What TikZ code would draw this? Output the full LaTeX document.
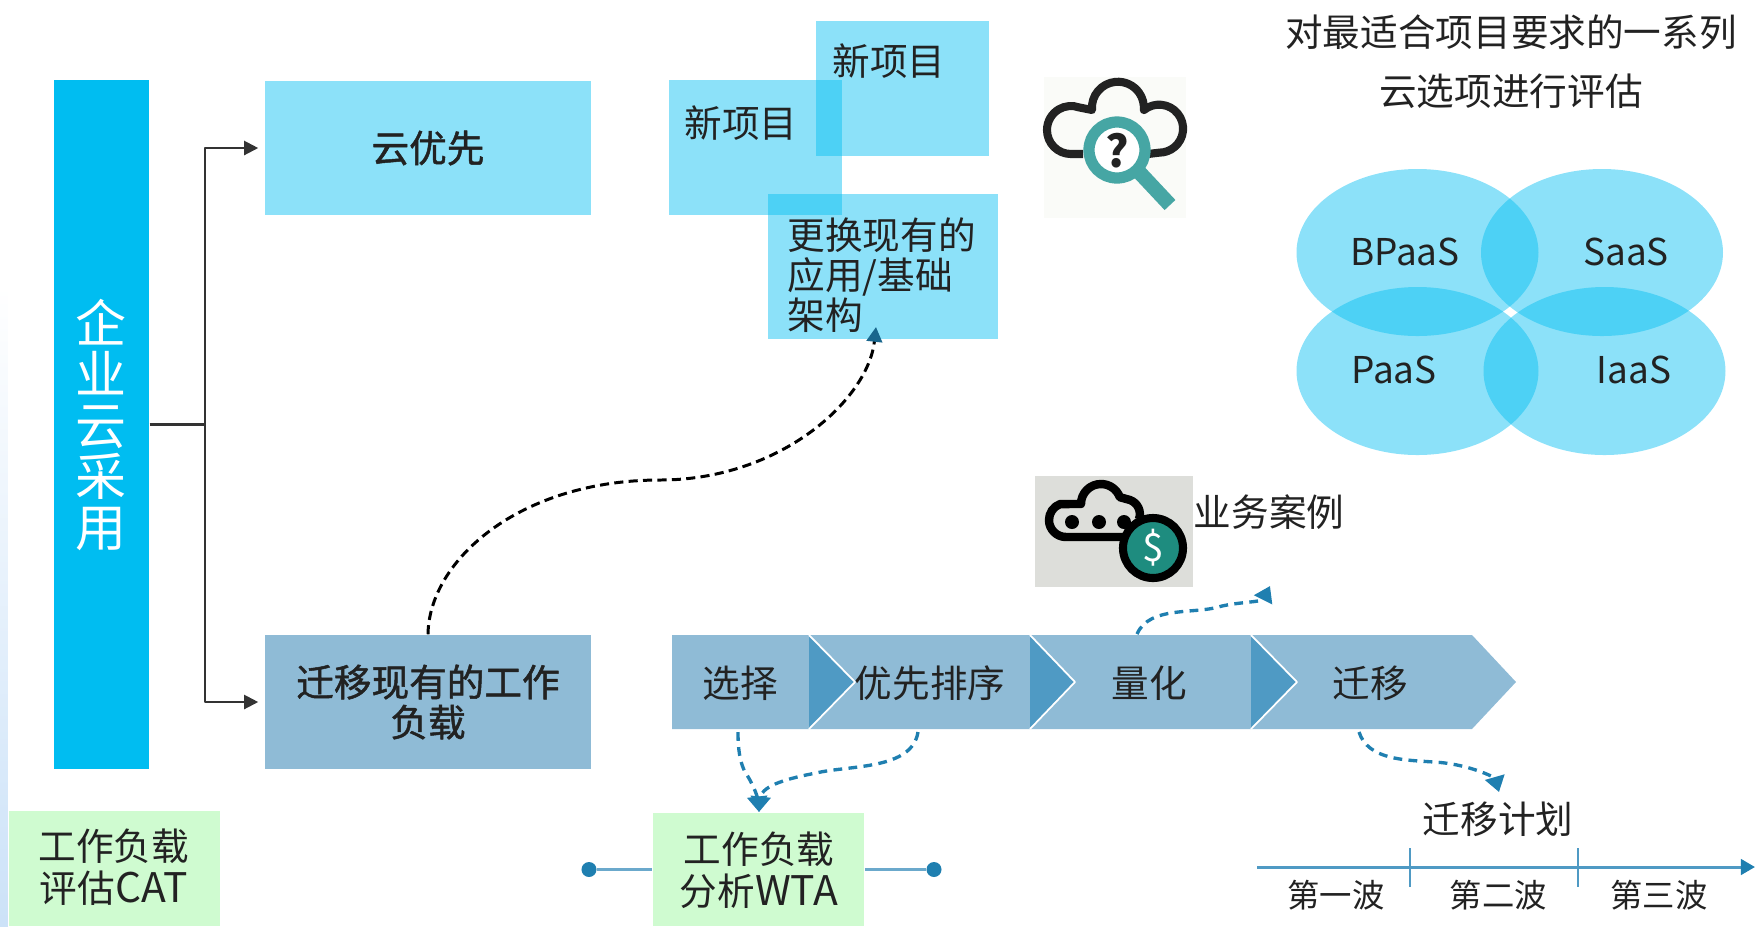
\documentclass[tikz,border=0pt]{standalone}
\usepackage{fontspec}
\setmainfont{Noto Sans CJK SC}
\newfontfamily\heavyfont[FakeBold=1.3]{Noto Sans CJK SC}
\usetikzlibrary{arrows.meta,calc}
\definecolor{barblue}{HTML}{00BDF1}
\definecolor{stepblue}{HTML}{8FBBD6}
\definecolor{tipblue}{HTML}{4F9AC4}
\definecolor{lineblue}{HTML}{1F7FB0}
\definecolor{railblue}{HTML}{6BA9CC}
\definecolor{palegreen}{HTML}{CFFBD0}
\definecolor{teal}{HTML}{46A6A4}
\definecolor{coin}{HTML}{1E8C7F}
\definecolor{inkdark}{HTML}{222222}
\definecolor{panelone}{HTML}{FAFBF8}
\definecolor{paneltwo}{HTML}{DDDEDA}
\definecolor{stripblue}{HTML}{CCE2F8}
\begin{document}
\begin{tikzpicture}[x=0.01cm,y=-0.01cm,line join=round,
  every node/.style={inner sep=0pt,text=inkdark,font=\fontsize{10.7}{11.4}\selectfont},
  pale/.style={fill=barblue,fill opacity=.45,text opacity=1},
  solidbox/.style={fill=stepblue},
  greenbox/.style={fill=palegreen},
  flow/.style={draw=black!80,line width=.6pt,-{Triangle[length=4pt,width=4pt]},shorten >=1.7pt},
  blackdash/.style={line width=.85pt,dash pattern=on 2.6pt off 1.5pt,-{Triangle[length=4.2pt,width=4.4pt,color=lineblue!80!black]}},
  bluedash/.style={draw=lineblue,line width=.95pt,dash pattern=on 2.5pt off 1.8pt,-{Triangle[length=4.4pt,width=5.6pt]}},
  rail/.style={draw=railblue,line width=1pt},
  raildot/.style={circle,fill=lineblue,minimum size=.15cm},
  small/.style={font=\fontsize{9.2}{10}\selectfont},
  latin/.style={font=\fontsize{10.5}{11.4}\selectfont},
  two/.style={align=center,font=\fontsize{10.7}{12}\selectfont},
  steptext/.style={text height=8.5pt,text depth=1.5pt}]
\useasboundingbox (0,0) rectangle (1756,926);
\shade[top color=white,bottom color=stripblue] (0,285) rectangle (8,926);
   \coordinate (trunk) at (205,424.5);
   \coordinate (replTip) at (876,327);
   \coordinate (cubeTop) at (1270,586);
   \coordinate (planTip) at (1499,792);
   \coordinate (wtaTip) at (759,812);
   \node[fill=barblue,minimum width=.95cm,minimum height=6.89cm] (adopt) at (101.5,424.5) {};
   \node[text=white,align=center,font=\fontsize{14.5}{14.5}\selectfont] (adoptText) at (101,425) {企\\业\\云\\采\\用};
   \node[pale,minimum width=3.26cm,minimum height=1.34cm,font=\fontsize{10.7}{11.4}\heavyfont] (first) at (428,148) {云优先};
   \node[solidbox,minimum width=3.26cm,minimum height=1.34cm,align=center,font=\fontsize{10.7}{11.4}\heavyfont] (move) at (428,702) {迁移现有的工作\\负载};
   \draw[flow] (adopt.east) -- (trunk) |- (first.west);
   \draw[flow] (trunk) |- (move.west);
   \node[pale,minimum width=1.73cm,minimum height=1.35cm] (newA) at (902.5,88.5) {};
   \node[pale,minimum width=1.73cm,minimum height=1.35cm] (newB) at (755.5,147.5) {};
   \node[pale,minimum width=2.30cm,minimum height=1.45cm] (repl) at (883,266.5) {};
   \node (newAText) at (889,61) {新项目};
   \node (newBText) at (741,123) {新项目};
   \node[align=left,anchor=west] (replText) at (787,275) {更换现有的\\应用/基础\\架构};
   \draw[blackdash] (move.north) .. controls (429,560) and (520,480) .. (660,480) .. controls (780,480) and (868,400) .. (replTip);
\fill[panelone] (1044,77) rectangle (1186,218);
\draw[line width=2.3pt,inkdark] (1083,154) -- (1071,154) arc[start angle=90,end angle=290,radius=24] -- (1092,110) arc[start angle=175,end angle=365,radius=26] -- (1144,110) arc[start angle=231,end angle=450,radius=24] -- (1148,154);
\draw[teal,line width=4.2pt] (1140,173) -- (1170,205);
\draw[teal,line width=3.2pt,fill=white] (1117,150) circle (28);
   \node[font=\fontsize{12.5}{13}\selectfont\bfseries] (query) at (1117,151) {?};
   \node (evalOne) at (1511,32) {对最适合项目要求的一系列};
   \node (evalTwo) at (1511,91) {云选项进行评估};
\fill[barblue,fill opacity=.45] (1417.5,252.5) ellipse (121 and 83.5);
\fill[barblue,fill opacity=.45] (1602,252.5) ellipse (121 and 83.5);
\fill[barblue,fill opacity=.45] (1417.5,371) ellipse (121 and 84);
\fill[barblue,fill opacity=.45] (1604.5,371) ellipse (121 and 84);
   \node[latin] (bpaas) at (1405,252) {BPaaS};
   \node[latin] (saas) at (1626,252) {SaaS};
   \node[latin] (paas) at (1394,370) {PaaS};
   \node[latin] (iaas) at (1634,370) {IaaS};
\fill[paneltwo] (1035,476) rectangle (1193,587);
\draw[line width=2.4pt,black] (1125,537) -- (1066,537) arc[start angle=90,end angle=250,radius=17] -- (1081,504) arc[start angle=180,end angle=340,radius=20] -- (1130,500) arc[start angle=-70,end angle=20,radius=15];
\fill (1072,522) circle (7) (1099,522) circle (7) (1124,522) circle (7);
\draw[black,line width=2.3pt,fill=coin] (1153,548) circle (30);
   \node[text=white,font=\fontsize{11}{12}\selectfont] (dollar) at (1153,548) {\$};
   \node (caseText) at (1269,512) {业务案例};
\fill[stepblue] (672,635) -- (1472,635) -- (1516,682) -- (1472,729) -- (672,729) -- cycle;
\foreach \a/\b in {809/855,1030/1075,1251/1297} {
  \fill[tipblue] (\a,635) -- (\b,682) -- (\a,729) -- cycle;
  \draw[white,line width=.5pt] (\a,635) -- (\b,682) -- (\a,729);
}
   \node[steptext] (pick) at (740,685) {选择};
   \node[steptext] (rank) at (930,685) {优先排序};
   \node[steptext] (measure) at (1149,685) {量化};
   \node[steptext] (shift) at (1370,685) {迁移};
   \draw[bluedash] (1137,634) .. controls (1150,605) and (1195,615) .. (1222,606) .. controls (1240,602) and (1262,602) .. (cubeTop);
   \draw[bluedash] (1359,732) .. controls (1368,760) and (1405,760) .. (1434,762) .. controls (1470,764) and (1495,778) .. (planTip);
   \draw[bluedash] (738,732) .. controls (738,750) and (740,762) .. (745,772) .. controls (752,782) and (757,795) .. (wtaTip);
   \draw[bluedash] (918,732) .. controls (912,770) and (850,765) .. (816,773) .. controls (790,778) and (762,785) .. (wtaTip);
   \node[greenbox,minimum width=2.11cm,minimum height=1.15cm] (cat) at (114.5,868.5) {};
   \node[two] (catText) at (114,867) {工作负载\\评估{\fontsize{11.6}{12}\selectfont CAT}};
   \node[raildot] (railA) at (589,869.5) {};
   \node[raildot] (railB) at (934,869.5) {};
   \node[greenbox,minimum width=2.11cm,minimum height=1.13cm] (wta) at (758.5,869.5) {};
   \node[two] (wtaText) at (759,870) {工作负载\\分析{\fontsize{11.6}{12}\selectfont WTA}};
   \draw[rail] (railA) -- (wta);
   \draw[rail] (wta) -- (railB);
   \node (planText) at (1498,819) {迁移计划};
   \coordinate (lineA) at (1257,867);
   \coordinate (lineB) at (1755,867);
   \draw[draw=tipblue,line width=.85pt,-{Triangle[length=4pt,width=4.4pt,color=lineblue]}] (lineA) -- (lineB);
\foreach \x in {1410,1578} \draw[tipblue,line width=.6pt] (\x,848) -- (\x,887);
   \node[small] (waveA) at (1336,895) {第一波};
   \node[small] (waveB) at (1498.5,895) {第二波};
   \node[small] (waveC) at (1659,895) {第三波};
\end{tikzpicture}
\end{document}
